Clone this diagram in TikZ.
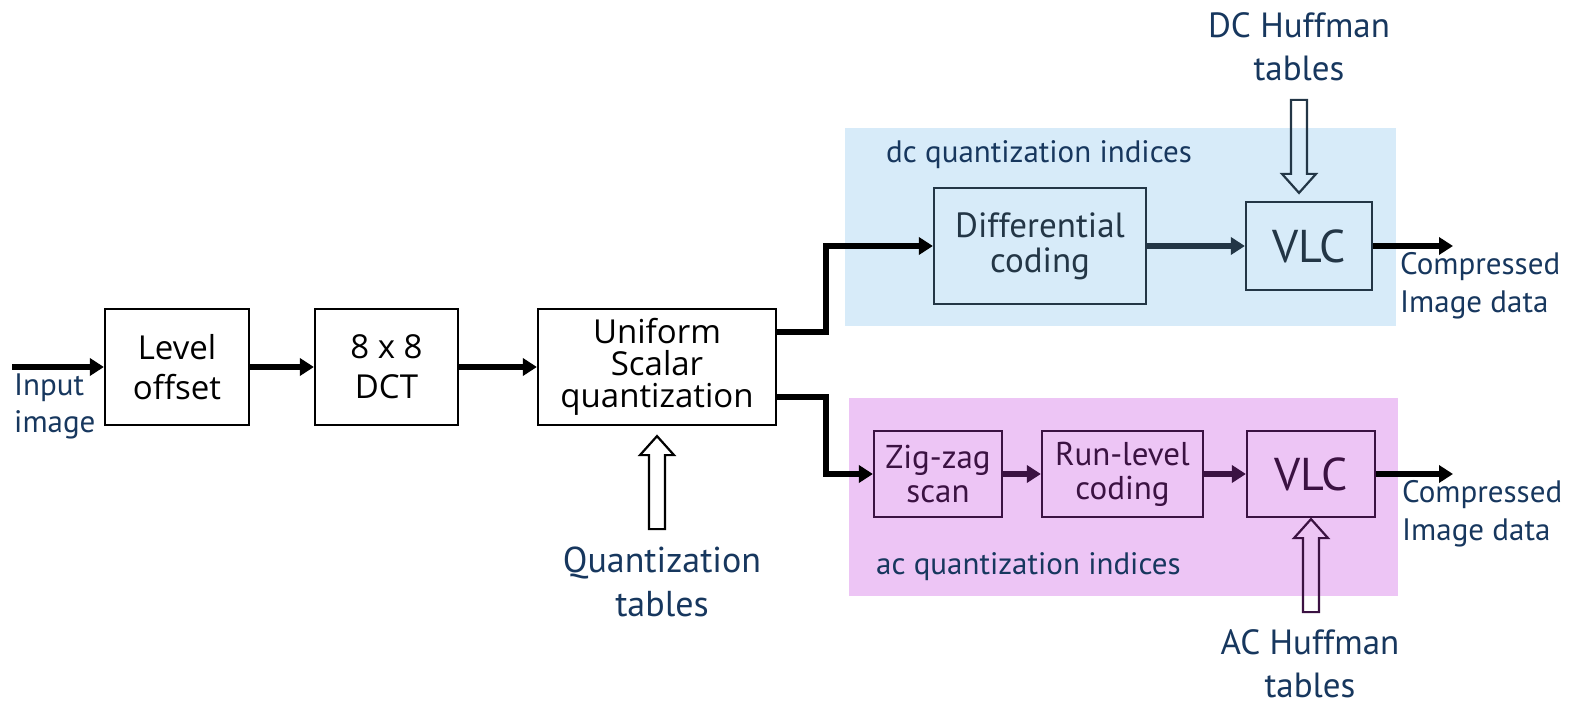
\documentclass[tikz,border=0pt]{standalone}
\usepackage{fontspec}
\setmainfont{Open Sans}
\newfontfamily\labfont{PT Sans}
\usetikzlibrary{arrows.meta,calc}
\definecolor{navy}{HTML}{17375E}
\definecolor{dcfill}{HTML}{D7EBF9}
\definecolor{acfill}{HTML}{EDC5F5}
\definecolor{dcline}{HTML}{233646}
\definecolor{acline}{HTML}{3B1242}
\tikzset{
  pics/hollowup/.style={code={
    \draw[line width=2.2pt, line join=miter]
      (0,0) -- (17,19) -- (8,19) -- (8,#1) -- (-8,#1) -- (-8,19) -- (-17,19) -- cycle;}}
}
\begin{document}
\begin{tikzpicture}[x=1pt,y=-1pt,
  blk/.style={draw, line width=2.2pt, inner sep=0pt, align=center,
    font=\fontsize{33}{40}\selectfont},
  dcblk/.style={blk, draw=dcline, text=dcline, font=\labfont\fontsize{35}{35}\selectfont},
  acblk/.style={blk, draw=acline, text=acline, font=\labfont\fontsize{33}{34}\selectfont},
  vlc/.style={font=\labfont\fontsize{46}{46}\selectfont},
  arr/.style={line width=5.5pt, -{Triangle[length=14pt,width=17pt]}},
  lab/.style={text=navy, inner sep=0pt, align=center, font=\labfont\fontsize{31}{38}\selectfont},
  biglab/.style={lab, font=\labfont\fontsize{35}{43}\selectfont}
]
\useasboundingbox (0,0) rectangle (1579,708);

% shaded regions for the dc and ac paths
\fill[dcfill] (845,128) rectangle (1396,326);
\fill[acfill] (849,398) rectangle (1398,596);

% main chain
\node[blk, minimum width=144pt, minimum height=116pt] (level) at (177,367) {Level\\offset};
\node[blk, minimum width=143pt, minimum height=116pt] (dct) at (386.5,367) {8 x 8\\DCT};
\node[blk, minimum width=238pt, minimum height=116pt,
      font=\fontsize{33}{32}\selectfont] (quant) at (657,367) {Uniform\\Scalar\\quantization};

% dc path
\node[dcblk, minimum width=212pt, minimum height=116pt] (diff) at (1040,246) {Differential\\coding};
\node[dcblk, vlc, minimum width=126pt, minimum height=88pt] (vlcdc) at (1309,246) {VLC};

% ac path
\node[acblk, minimum width=128pt, minimum height=86pt] (zig) at (938,474) {Zig-zag\\scan};
\node[acblk, minimum width=161pt, minimum height=86pt] (run) at (1122.5,474) {Run-level\\coding};
\node[acblk, vlc, minimum width=128pt, minimum height=86pt] (vlcac) at (1311,474) {VLC};

% labels
\node[lab, anchor=west, align=left, font=\labfont\fontsize{31}{37}\selectfont] (inp) at (14,406) {Input\\image};
\node[lab, anchor=west] (dclab) at (886,155) {dc quantization indices};
\node[lab, anchor=west] (aclab) at (876,567) {ac quantization indices};
\node[lab, anchor=west, align=left] (cdc) at (1400,286) {Compressed\\Image data};
\node[lab, anchor=west, align=left] (cac) at (1402,514) {Compressed\\Image data};
\node[biglab] (dch) at (1299,47) {DC Huffman\\tables};
\node[biglab] (ach) at (1310,664) {AC Huffman\\tables};
\node[biglab, font=\labfont\fontsize{36}{44}\selectfont] (qt) at (662,582) {Quantization\\tables};

% connectors
\coordinate (inL) at (12,367);
\coordinate (splitx) at (826,0);
\coordinate (outdc) at (1453,246);
\coordinate (outac) at (1453,474);
\draw[arr] (inL) -- (level.west);
\draw[arr] (level) -- (dct);
\draw[arr] (dct) -- (quant);
\draw[arr] ([yshift=35pt]quant.east) -- ([yshift=35pt]quant.east -| splitx) |- (diff.west);
\draw[arr] ([yshift=-30pt]quant.east) -- ([yshift=-30pt]quant.east -| splitx) |- (zig.west);
\draw[arr, dcline] (diff) -- (vlcdc);
\draw[arr] (vlcdc) -- (outdc);
\draw[arr, acline] (zig) -- (run);
\draw[arr, acline] (run) -- (vlcac);
\draw[arr] (vlcac) -- (outac);

% hollow table arrows
\pic[black] at ([yshift=-10pt]quant.south) {hollowup=93};
\pic[dcline, rotate=180] at ([shift={(-10pt,8pt)}]vlcdc.north) {hollowup=93};
\pic[acline] at ([yshift=-1pt]vlcac.south) {hollowup=93};
\end{tikzpicture}
\end{document}
